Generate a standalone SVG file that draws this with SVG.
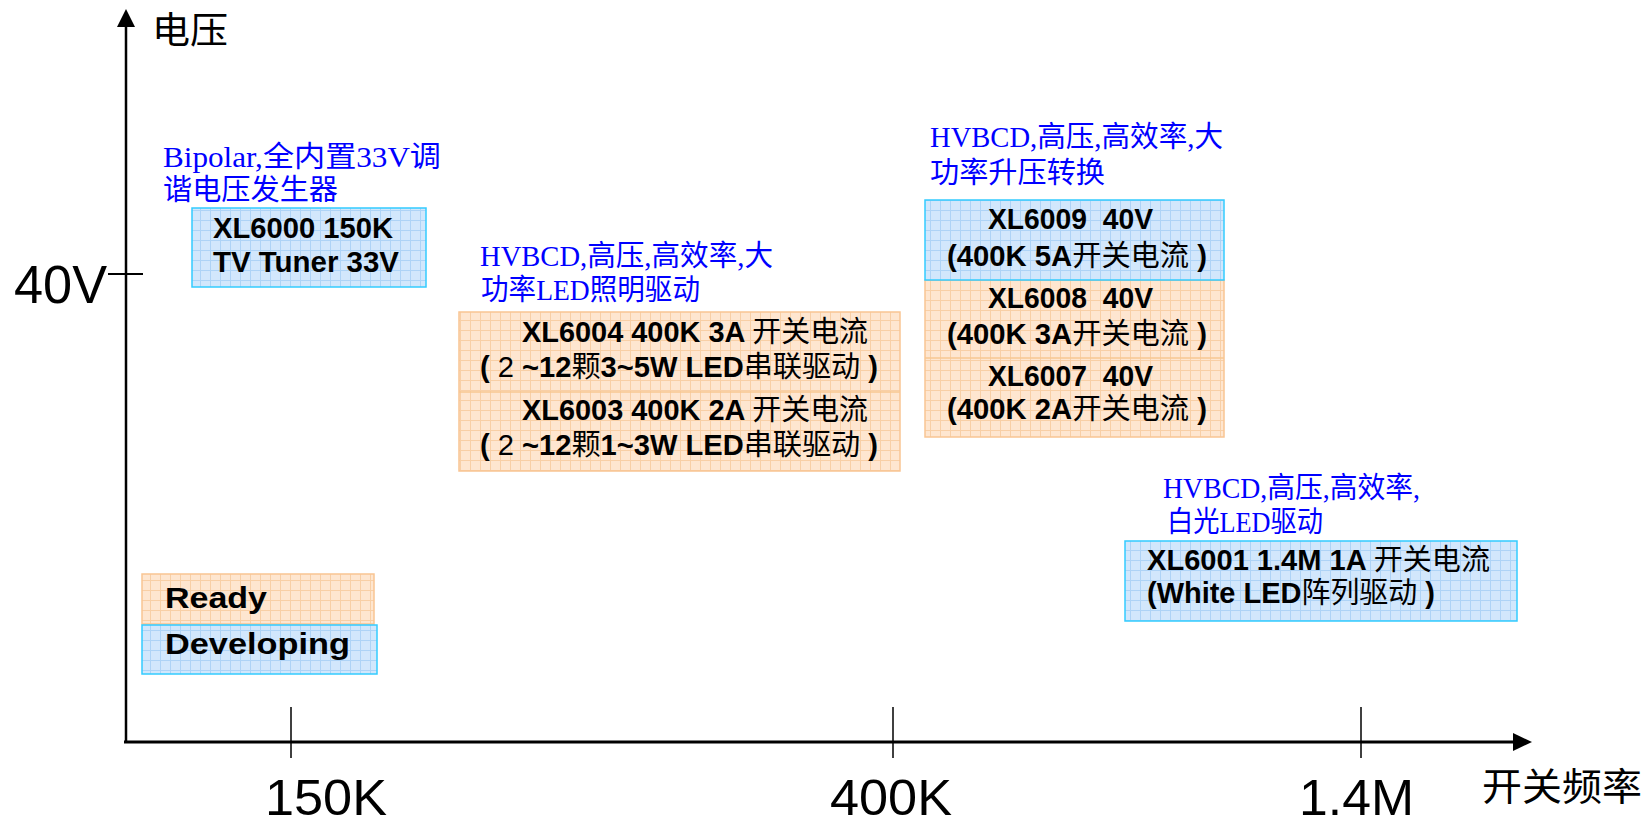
<svg xmlns="http://www.w3.org/2000/svg" width="1648" height="823" viewBox="0 0 1648 823">
<style>
.lbl{font-family:"Liberation Serif","Noto Sans CJK SC",serif;font-size:29px;fill:#0000ff}
.bt{font-family:"Liberation Sans","Noto Sans CJK SC",sans-serif;font-size:29px;font-weight:bold;fill:#000}
.cj{font-weight:normal}
.ax{font-family:"Liberation Sans","Noto Sans CJK SC",sans-serif;fill:#000}
.blue{fill:url(#gb);stroke:#33ccff;stroke-width:1.5}
.orng{fill:url(#go);stroke:#f9c593;stroke-width:1.5}
</style>
<defs>
<pattern id="gb" width="10" height="10" patternUnits="userSpaceOnUse">
<rect width="10" height="10" fill="#d2e7fc"/>
<path d="M0 0.5H10M0.5 0V10" stroke="#aed3f6" stroke-width="1"/>
</pattern>
<pattern id="go" width="10" height="10" patternUnits="userSpaceOnUse">
<rect width="10" height="10" fill="#fee6d0"/>
<path d="M0 0.5H10M0.5 0V10" stroke="#f8cfa6" stroke-width="1"/>
</pattern>
</defs>
<rect width="1648" height="823" fill="#fff"/>
<g id="axes">
<line x1="126" y1="742" x2="126" y2="24" stroke="#000" stroke-width="2.5"/>
<polygon points="126,9 117,27 135,27" fill="#000"/>
<line x1="124" y1="742" x2="1516" y2="742" stroke="#000" stroke-width="3"/>
<polygon points="1532,742 1513,733 1513,751" fill="#000"/>
<line x1="108" y1="274" x2="143" y2="274" stroke="#000" stroke-width="2"/>
<line x1="291" y1="707" x2="291" y2="758" stroke="#000" stroke-width="1.5"/>
<line x1="893" y1="707" x2="893" y2="758" stroke="#000" stroke-width="1.5"/>
<line x1="1361" y1="707" x2="1361" y2="758" stroke="#000" stroke-width="1.5"/>
<text class="ax" x="152" y="44" font-size="37" textLength="76" lengthAdjust="spacingAndGlyphs">电压</text>
<text class="ax" x="14" y="303" font-size="53" textLength="93" lengthAdjust="spacingAndGlyphs">40V</text>
<text class="ax" x="265" y="815" font-size="50" textLength="122" lengthAdjust="spacingAndGlyphs">150K</text>
<text class="ax" x="830" y="815" font-size="50" textLength="122" lengthAdjust="spacingAndGlyphs">400K</text>
<text class="ax" x="1299" y="815" font-size="50" textLength="115" lengthAdjust="spacingAndGlyphs">1.4M</text>
<text class="ax" x="1482" y="800" font-size="38" textLength="160" lengthAdjust="spacingAndGlyphs">开关频率</text>
</g>
<g id="xl6000">
<text class="lbl" x="163" y="167" textLength="278" lengthAdjust="spacingAndGlyphs">Bipolar,全内置33V调</text>
<text class="lbl" x="163" y="200" textLength="175" lengthAdjust="spacingAndGlyphs">谐电压发生器</text>
<rect class="blue" x="192" y="208" width="234" height="79"/>
<text class="bt" x="213" y="238" textLength="180" lengthAdjust="spacingAndGlyphs">XL6000 150K</text>
<text class="bt" x="213" y="272" textLength="186" lengthAdjust="spacingAndGlyphs">TV Tuner 33V</text>
</g>
<g id="xl6004">
<text class="lbl" x="480" y="266" textLength="293" lengthAdjust="spacingAndGlyphs">HVBCD,高压,高效率,大</text>
<text class="lbl" x="481" y="300" textLength="219" lengthAdjust="spacingAndGlyphs">功率LED照明驱动</text>
<rect class="orng" x="459" y="312" width="441" height="159"/>
<line x1="459" y1="392" x2="900" y2="392" stroke="#f7c792" stroke-width="1.5"/>
<text class="bt" x="522" y="342" textLength="346" lengthAdjust="spacingAndGlyphs">XL6004 400K 3A <tspan class="cj">开关电流</tspan></text>
<text class="bt" x="480" y="377" textLength="398" lengthAdjust="spacingAndGlyphs">( <tspan class="cj">2</tspan> ~12<tspan class="cj">颗</tspan>3~5W LED<tspan class="cj">串联驱动</tspan> )</text>
<text class="bt" x="522" y="420" textLength="346" lengthAdjust="spacingAndGlyphs">XL6003 400K 2A <tspan class="cj">开关电流</tspan></text>
<text class="bt" x="480" y="455" textLength="398" lengthAdjust="spacingAndGlyphs">( <tspan class="cj">2</tspan> ~12<tspan class="cj">颗</tspan>1~3W LED<tspan class="cj">串联驱动</tspan> )</text>
</g>
<g id="xl6009">
<text class="lbl" x="930" y="147" textLength="293" lengthAdjust="spacingAndGlyphs">HVBCD,高压,高效率,大</text>
<text class="lbl" x="930" y="183" textLength="175" lengthAdjust="spacingAndGlyphs">功率升压转换</text>
<rect class="orng" x="925" y="280" width="299" height="157"/>
<line x1="925" y1="358" x2="1224" y2="358" stroke="#f7c792" stroke-width="1.5"/>
<rect class="blue" x="925" y="200" width="299" height="80"/>
<text class="bt" x="988" y="229" textLength="165" lengthAdjust="spacingAndGlyphs">XL6009&#160; 40V</text>
<text class="bt" x="947" y="266" textLength="260" lengthAdjust="spacingAndGlyphs">(400K 5A<tspan class="cj">开关电流</tspan> )</text>
<text class="bt" x="988" y="308" textLength="165" lengthAdjust="spacingAndGlyphs">XL6008&#160; 40V</text>
<text class="bt" x="947" y="344" textLength="260" lengthAdjust="spacingAndGlyphs">(400K 3A<tspan class="cj">开关电流</tspan> )</text>
<text class="bt" x="988" y="386" textLength="165" lengthAdjust="spacingAndGlyphs">XL6007&#160; 40V</text>
<text class="bt" x="947" y="419" textLength="260" lengthAdjust="spacingAndGlyphs">(400K 2A<tspan class="cj">开关电流</tspan> )</text>
</g>
<g id="xl6001">
<text class="lbl" x="1163" y="498" textLength="257" lengthAdjust="spacingAndGlyphs">HVBCD,高压,高效率,</text>
<text class="lbl" x="1167" y="532" textLength="156" lengthAdjust="spacingAndGlyphs">白光LED驱动</text>
<rect class="blue" x="1125" y="541" width="392" height="80"/>
<text class="bt" x="1147" y="570" textLength="343" lengthAdjust="spacingAndGlyphs">XL6001 1.4M 1A <tspan class="cj">开关电流</tspan></text>
<text class="bt" x="1147" y="603" textLength="288" lengthAdjust="spacingAndGlyphs">(White LED<tspan class="cj">阵列驱动</tspan> )</text>
</g>
<g id="legend-ready">
<rect class="orng" x="142" y="574" width="232" height="50"/>
<text class="bt" x="165" y="608" font-size="36" textLength="102" lengthAdjust="spacingAndGlyphs">Ready</text>
</g>
<g id="legend-developing">
<rect class="blue" x="142" y="625" width="235" height="49"/>
<text class="bt" x="165" y="654" font-size="36" textLength="185" lengthAdjust="spacingAndGlyphs">Developing</text>
</g>
</svg>
